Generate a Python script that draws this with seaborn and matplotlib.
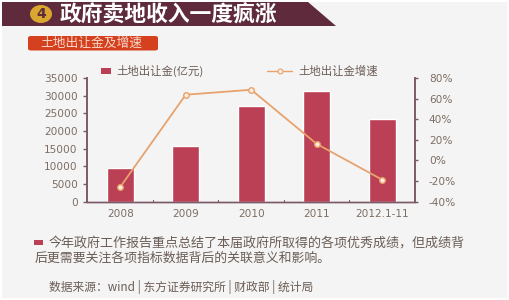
import matplotlib
matplotlib.use("Agg")
import matplotlib.pyplot as plt
from matplotlib.patches import Polygon, Rectangle, FancyBboxPatch, Ellipse
import seaborn as sns
import pandas as pd

years = ["2008", "2009", "2010", "2011", "2012.1-11"]
revenue = [9535, 15760, 27080, 31400, 23300]
growth = [-25.7, 63.8, 68.6, 16, -18.7]
left_ticks = [0, 5000, 10000, 15000, 20000, 25000, 30000, 35000]
right_ticks = [-40, -20, 0, 20, 40, 60, 80]
title = "政府卖地收入一度疯涨"
badge = "土地出让金及增速"
bar_name = "土地出让金(亿元)"
line_name = "土地出让金增速"
body1 = "今年政府工作报告重点总结了本届政府所取得的各项优秀成绩，但成绩背"
body2 = "后更需要关注各项指标数据背后的关联意义和影响。"
source = "数据来源：wind | 东方证券研究所 | 财政部 | 统计局"

sns.set_theme(style="white")
plt.rcParams['font.family'] = ['Noto Sans CJK SC', 'DejaVu Sans']

W, H = 510, 300
TICK = "#7d6e64"
SPINE = "#7b5a68"
BAR = "#bb3f55"
LINE = "#e8a26c"
DARK = "#5e2a3c"
TXT = "#6b5d55"

fig = plt.figure(figsize=(5.1, 3.0), dpi=100, facecolor="white")

def X(p): return p / W
def Y(p): return 1 - p / H

fig.patches.append(Rectangle((X(2), Y(298)), 505 / W, 296 / H, transform=fig.transFigure,
                             facecolor="#f4f4f4", edgecolor="none", zorder=-5))
fig.patches.append(Polygon([(X(2), Y(2)), (X(308), Y(2)), (X(336), Y(26)), (X(2), Y(26))],
                           transform=fig.transFigure, facecolor=DARK, edgecolor="none"))
fig.patches.append(Ellipse((X(41), Y(14)), 22 / W, 18 / H, transform=fig.transFigure,
                           facecolor="#d9a62e", edgecolor="none"))
fig.text(X(41), Y(14), "4", color=DARK, fontsize=10, fontweight="bold", ha="center", va="center",
         family=['DejaVu Sans'])
fig.text(X(60), Y(14.5), title, color="white", fontsize=15.7, fontweight="bold", va="center")
fig.patches.append(FancyBboxPatch((X(28), Y(50.5)), 130 / W, 14.5 / H, transform=fig.transFigure,
                                  boxstyle="round,pad=0,rounding_size=0.006",
                                  facecolor="#d5401f", edgecolor="none"))
fig.text(X(91), Y(43), badge, color="#f7d9c9", fontsize=9.2, ha="center", va="center")

ax = fig.add_axes([X(87.5), Y(201.7), (415 - 87.5) / W, (201.7 - 78) / H], zorder=5)
ax.patch.set_alpha(0)
df = pd.DataFrame({"year": years, "revenue": revenue, "growth": growth})
sns.barplot(data=df, x="year", y="revenue", color=BAR, saturation=1, width=0.41, ax=ax)
ax.set_xlim(-0.5, 4.5)
ax.set_ylim(0, 35000)
ax.set_yticks(left_ticks)
ax.set_xlabel("")
ax.set_ylabel("")
ax.tick_params(axis="y", labelsize=7.6, labelcolor=TICK, color=SPINE, length=3, width=1, pad=4, left=True)
ax.tick_params(axis="x", labelsize=7.6, labelcolor=TICK, length=0, pad=5)
for x in [0.5, 1.5, 2.5, 3.5]:
    ax.plot([x, x], [0, 600], color=SPINE, lw=0.8)

ax2 = ax.twinx()
sns.lineplot(data=df, x="year", y="growth", color=LINE, lw=1.3, marker="o", markersize=4,
             markerfacecolor="#fbeee0", markeredgecolor=LINE, markeredgewidth=1, ax=ax2, errorbar=None)
ax2.set_ylim(-40, 80)
ax2.set_yticks(right_ticks)
ax2.set_yticklabels([f"{v}%" for v in right_ticks])
ax2.set_ylabel("")
ax2.set_xlabel("")
ax2.tick_params(axis="y", labelsize=7.6, labelcolor=TICK, color=SPINE, length=2, width=1, pad=8, right=True)

for lab in ax.get_xticklabels() + ax.get_yticklabels() + ax2.get_yticklabels():
    lab.set_fontfamily(['DejaVu Sans'])

for a in (ax, ax2):
    a.spines["top"].set_visible(False)
    a.spines["left"].set_color(SPINE)
    a.spines["right"].set_color(SPINE)
    a.spines["bottom"].set_color(SPINE)
    a.spines["left"].set_linewidth(1.2)
    a.spines["right"].set_linewidth(1.2)
    a.spines["bottom"].set_linewidth(1)

# legend
fig.patches.append(Rectangle((X(101), Y(74)), 10 / W, 6 / H, transform=fig.transFigure,
                             facecolor=BAR, edgecolor="none"))
fig.text(X(116.5), Y(71), bar_name, color=TXT, fontsize=8.2, va="center")
fig.add_artist(plt.Line2D([X(267), X(292)], [Y(70.5), Y(70.5)], color=LINE, lw=1,
                          transform=fig.transFigure))
fig.add_artist(plt.Line2D([X(279.5)], [Y(70.5)], color=LINE, marker="o", markersize=3.5, markerfacecolor="#fbeee0",
                          markeredgewidth=0.8, linestyle="none", transform=fig.transFigure))
fig.text(X(298), Y(71), line_name, color=TXT, fontsize=8.2, va="center")

# body
fig.patches.append(Rectangle((X(34.5), Y(245)), 9 / W, 5 / H, transform=fig.transFigure,
                             facecolor=BAR, edgecolor="none"))
fig.text(X(49), Y(243), body1, color=TXT, fontsize=9.4, va="center")
fig.text(X(34.5), Y(258), body2, color=TXT, fontsize=9.3, va="center")
fig.text(X(49), Y(287), source, color=TXT, fontsize=8.5, va="center")

fig.savefig("out.png", dpi=100, facecolor="white")
